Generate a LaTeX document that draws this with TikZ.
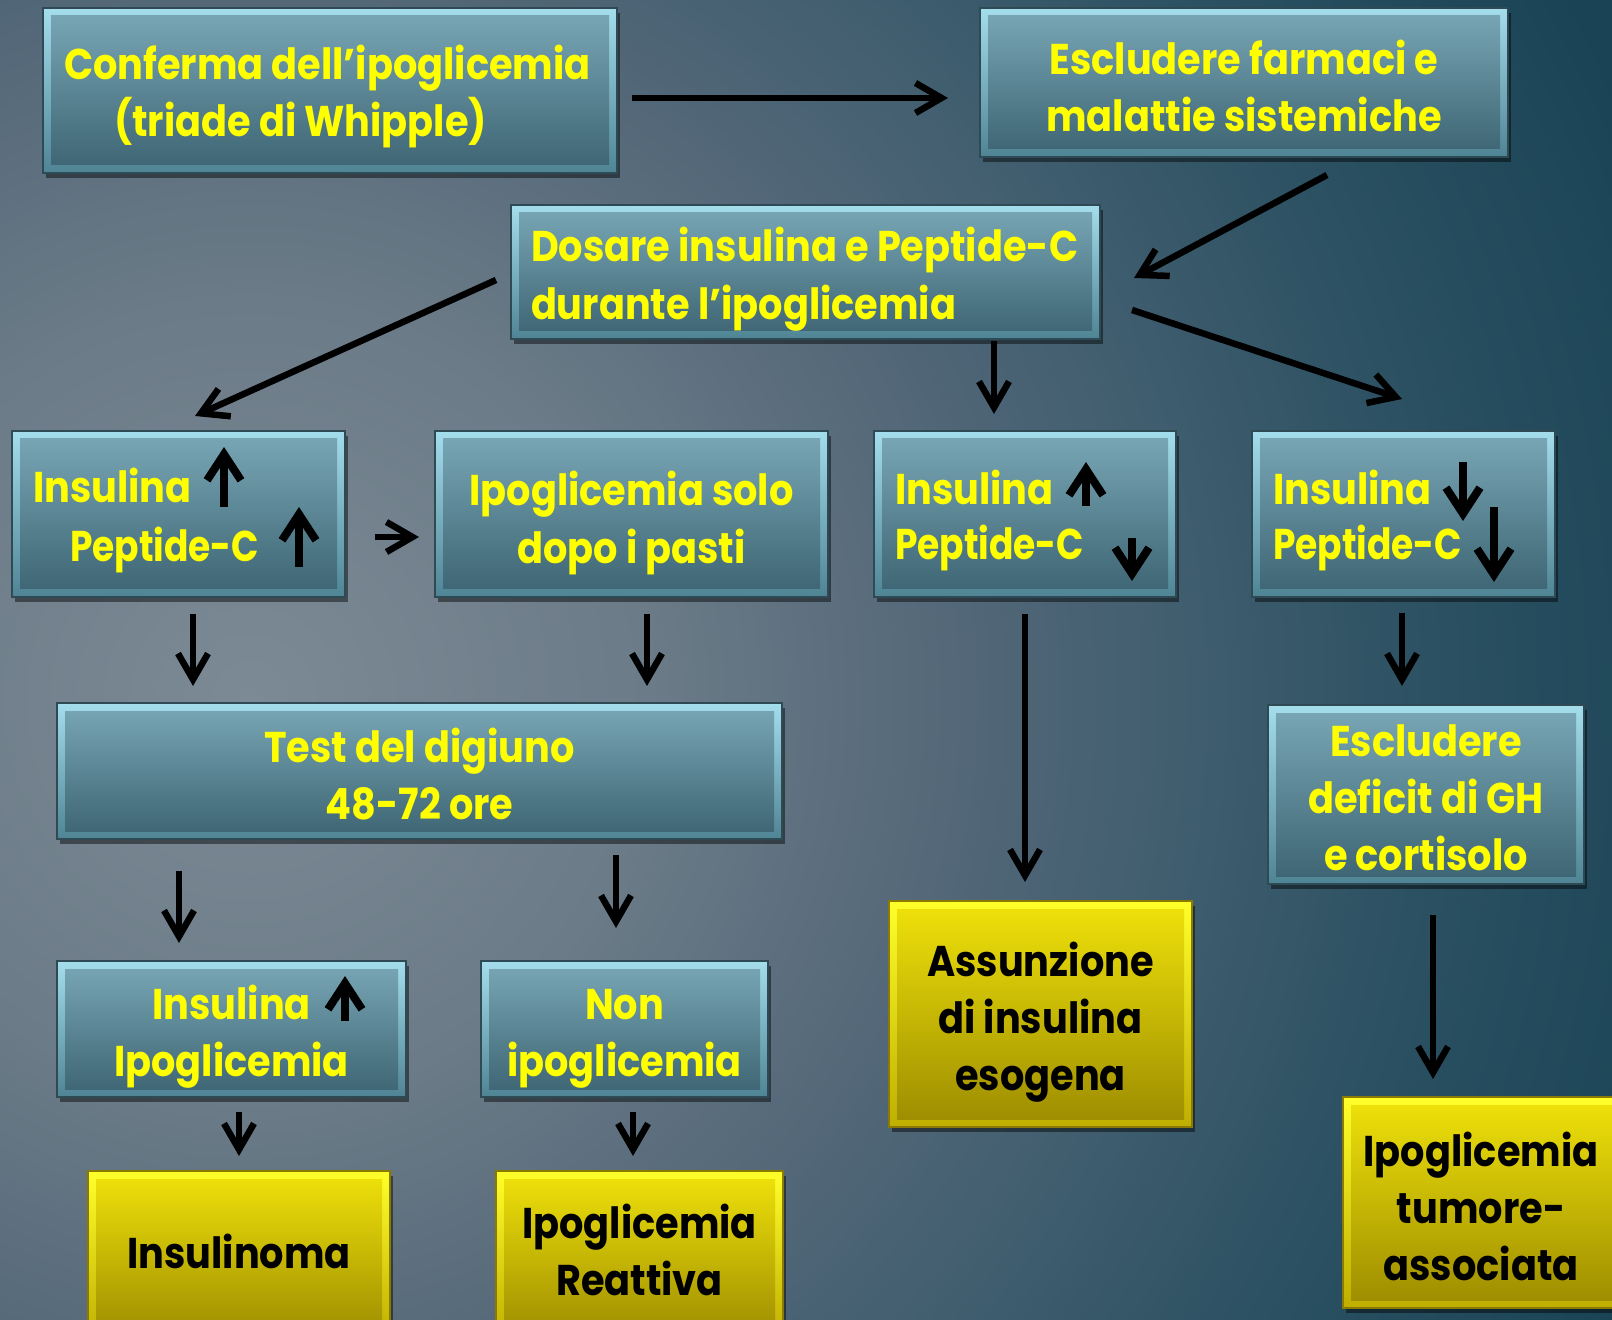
\documentclass[tikz,border=0pt]{standalone}
\usepackage{graphicx}
\usepackage{fontspec}
\setmainfont{Poppins}[FakeStretch=0.89]
\usetikzlibrary{calc,arrows.meta,shadows}

\definecolor{bgA}{HTML}{7C8A95}
\definecolor{bgB}{HTML}{6B7B87}
\definecolor{bgC}{HTML}{546879}
\definecolor{bgD}{HTML}{3F5D6E}
\definecolor{bgE}{HTML}{2A5061}
\definecolor{bgF}{HTML}{1A4456}
\definecolor{bevT}{HTML}{A4DDEC}
\definecolor{bevB}{HTML}{4F8494}
\definecolor{faceT}{HTML}{7AA8B7}
\definecolor{faceB}{HTML}{3C6371}
\definecolor{boxline}{HTML}{2E4A55}
\definecolor{ybevT}{HTML}{FFFF2A}
\definecolor{ybevB}{HTML}{BFAE00}
\definecolor{yfaceT}{HTML}{F0E30A}
\definecolor{yfaceB}{HTML}{9C8B00}
\definecolor{yline}{HTML}{8A7A00}
\definecolor{txtyellow}{HTML}{FFFF00}

\newcommand{\pepc}{\scalebox{0.94}[1]{Peptide-C}}

\pgfdeclareradialshading{bgshade}{\pgfpoint{0bp}{0bp}}{color(0bp)=(bgA); color(6.25bp)=(bgB); color(10.9bp)=(bgC); color(14.8bp)=(bgD); color(18.75bp)=(bgE); color(23.4bp)=(bgF); color(25bp)=(bgF); color(50bp)=(bgF)}

\tikzset{
  bevelbox/.style={outer sep=0pt, inner sep=0pt,
    drop shadow={shadow xshift=1.5pt,shadow yshift=-2.5pt,opacity=0.45,fill=black}},
  tbox/.style={bevelbox, draw=boxline, line width=0.75pt,
    top color=bevT, bottom color=bevB,
    path picture={\shade[top color=faceT,bottom color=faceB]
      ($(path picture bounding box.north west)+(4pt,-4pt)$) rectangle
      ($(path picture bounding box.south east)+(-4pt,4pt)$);}},
  ybox/.style={bevelbox, draw=yline, line width=0.75pt,
    top color=ybevT, bottom color=ybevB,
    path picture={\shade[top color=yfaceT,bottom color=yfaceB]
      ($(path picture bounding box.north west)+(4pt,-4pt)$) rectangle
      ($(path picture bounding box.south east)+(-4pt,4pt)$);}},
  basetext/.style={inner sep=0pt, outer sep=0pt,
    font=\bfseries\fontsize{21.5}{28.5}\selectfont},
  ytext/.style={basetext, text=txtyellow, anchor=base west},
  ctext/.style={basetext, text=txtyellow, align=center},
  ktext/.style={basetext, text=black, align=center},
  conn/.style={line width=3.25pt, draw=black, -{Straight Barb[length=13pt,width=15pt]}},
  updown/.style={line width=4pt, draw=black, -{Straight Barb[length=13pt,width=17pt]}},
}

\begin{document}
\begin{tikzpicture}[x=0.5pt,y=-0.5pt]
\useasboundingbox (0,0) rectangle (1612,1320);
\begin{scope}
  \clip (0,0) rectangle (1612,1320);
  \shade[shading=bgshade] (250,700) circle[radius=800pt];
\end{scope}

% boxes
\node[tbox, minimum width=287pt, minimum height=82.5pt] (b1) at (330,90.5) {};
\node[tbox, minimum width=264pt, minimum height=74.5pt] (b2) at (1244,82.5) {};
\node[tbox, minimum width=294.5pt, minimum height=67pt] (b3) at (805.5,272) {};
\node[tbox, minimum width=166.5pt, minimum height=83pt] (b4) at (178.5,514) {};
\node[tbox, minimum width=196.5pt, minimum height=83pt] (b5) at (631.5,514) {};
\node[tbox, minimum width=151pt, minimum height=83pt] (b6) at (1025,514) {};
\node[tbox, minimum width=151.5pt, minimum height=83pt] (b7) at (1403.5,514) {};
\node[tbox, minimum width=362.5pt, minimum height=68pt] (b8) at (419.5,771) {};
\node[tbox, minimum width=158pt, minimum height=89.5pt] (b9) at (1426,794.5) {};
\node[tbox, minimum width=174.5pt, minimum height=68pt] (b10) at (231.5,1029) {};
\node[tbox, minimum width=143.5pt, minimum height=68pt] (b11) at (624.5,1029) {};
\node[ybox, minimum width=151.5pt, minimum height=113pt] (b12) at (1040.5,1014) {};
\node[ybox, minimum width=151pt, minimum height=84.5pt] (b13) at (239,1255.5) {};
\node[ybox, minimum width=143.5pt, minimum height=84.5pt] (b14) at (639.5,1255.5) {};
\node[ybox, minimum width=141pt, minimum height=105.5pt] (b15) at (1484,1202.5) {};

% centred texts
\node[ctext] (t2) at ($(b2.center)+(0,3)$) {Escludere farmaci e\\malattie sistemiche};
\node[ctext] (t5) at ($(b5.center)+(0,9)$) {Ipoglicemia solo\\dopo i pasti};
\node[ctext] (t8) at ($(b8.center)+(0,3)$) {Test del digiuno\\48-72 ore};
\node[ctext] (t9) at ($(b9.center)+(0,3.5)$) {Escludere\\deficit di GH\\e cortisolo};
\node[ctext] (t10) at ($(b10.center)+(0,8)$) {Insulina\\Ipoglicemia};
\node[ctext] (t11) at ($(b11.center)+(0,10)$) {Non\\ipoglicemia};
\node[ktext] (t12) at ($(b12.center)+(0,8)$) {Assunzione\\di insulina\\esogena};
\node[ktext] (t13) at ($(b13.center)+(0,-4)$) {Insulinoma};
\node[ktext] (t14) at ($(b14.center)+(0,-6)$) {Ipoglicemia\\Reattiva};
\node[ktext] (t15) at ($(b15.center)+(-3,4)$) {Ipoglicemia\\tumore-\\associata};

% left-aligned texts
\node[ytext] (t1a) at (64,80) {Conferma dell’ipoglicemia};
\node[ytext] (t1b) at (114,137) {(triade di Whipple)};
\node[ytext] (t3a) at (531,262) {Dosare insulina e Peptide-C};
\node[ytext] (t3b) at (531,320) {durante l’ipoglicemia};
\node[ytext] (t4a) at (33,503) {Insulina};
\node[ytext] (t4b) at (70,562) {\pepc};
\node[ytext] (t6a) at (895,505) {Insulina};
\node[ytext] (t6b) at (895,560) {\pepc};
\node[ytext] (t7a) at (1273,505) {Insulina};
\node[ytext] (t7b) at (1273,560) {\pepc};

% up/down marks inside boxes
\draw[updown] (224,507) -- (224,447);
\draw[updown] (299,567) -- (299,507);
\draw[updown] (1086,506) -- (1086,462);
\draw[updown] (1132,538) -- (1132,581);
\draw[updown] (1463,462) -- (1463,521);
\draw[updown] (1494,507) -- (1494,582);
\draw[updown] (345,1021) -- (345,976);

% connectors
\draw[conn] ($(b1.east)+(15,7.5)$) -- ($(b2.west)+(-32,15.5)$);
\draw[conn] ($(b2.south)+(83,18)$) -- ($(b3.east)+(34,6)$);
\draw[conn] ($(b3.west)+(-15,8)$) -- ($(b4.north)+(16.5,-15)$);
\draw[conn] ($(b3.south)+(188.5,2)$) -- ($(b6.north)+(-31,-17)$);
\draw[conn] ($(b3.east)+(32,38)$) -- ($(b7.north)+(-1.5,-32)$);
\draw[conn] ($(b4.east)+(30,23)$) -- ($(b5.west)+(-16,23)$);
\draw[conn] ($(b4.south)+(14.5,17)$) -- ($(b8.north)+(-226.5,-17)$);
\draw[conn] ($(b5.south)+(15.5,17)$) -- ($(b8.north)+(227.5,-17)$);
\draw[conn] ($(b6.south)+(0,17)$) -- ($(b12.north)+(-15.5,-19)$);
\draw[conn] ($(b7.south)+(-1.5,16)$) -- ($(b9.north)+(-24,-19)$);
\draw[conn] ($(b8.south)+(-240.5,32)$) -- ($(b10.north)+(-52.5,-18)$);
\draw[conn] ($(b8.south)+(196.5,16)$) -- ($(b11.north)+(-8.5,-33)$);
\draw[conn] ($(b9.south)+(7,31)$) -- ($(b15.north)+(-51,-18)$);
\draw[conn] ($(b10.south)+(7.5,15)$) -- ($(b13.north)+(0,-15)$);
\draw[conn] ($(b11.south)+(8.5,15)$) -- ($(b14.north)+(-6.5,-15)$);
\end{tikzpicture}
\end{document}
